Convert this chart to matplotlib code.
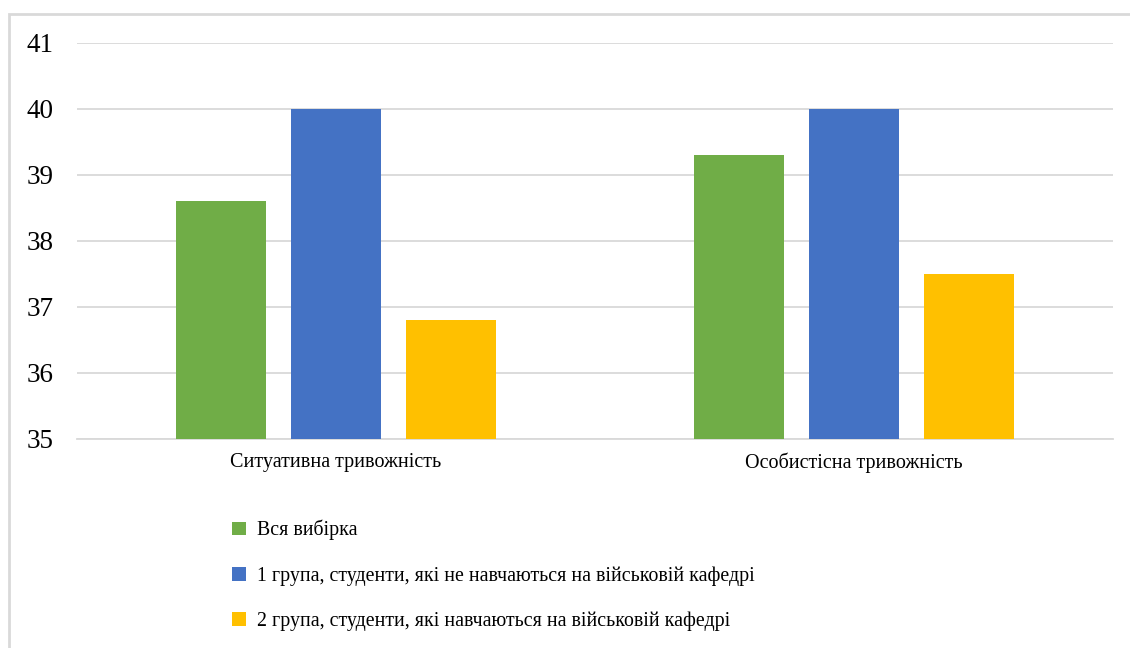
import matplotlib.pyplot as plt
import matplotlib.patches as mpl_patches
import numpy as np

plt.rcParams['font.family'] = ['Liberation Serif', 'DejaVu Serif']

categories = ['Ситуативна тривожність', 'Особистісна тривожність']
series_names = ['Вся вибірка',
                '1 група, студенти, які не навчаються на військовій кафедрі',
                '2 група, студенти, які навчаються на військовій кафедрі']
vse = [38.6, 39.3]
group1 = [40.0, 40.0]
group2 = [36.8, 37.5]
y_ticks = [35, 36, 37, 38, 39, 40, 41]

colors = ['#70AD47', '#4472C4', '#FFC000']
W, H = 1130, 648

fig = plt.figure(figsize=(W / 100, H / 100), dpi=100)
ax = fig.add_axes([77 / W, (H - 439) / H, (1113 - 77) / W, (439 - 43) / H])

x = np.arange(len(categories))
width = 0.174
step = 0.222
bars = []
for i, (vals, name) in enumerate(zip([vse, group1, group2], series_names)):
    b = ax.bar(x + (i - 1) * step, vals, width, color=colors[i], label=name,
               zorder=3)
    bars.append(b)

ax.set_xlim(-0.5, 1.5)
ax.set_ylim(35, 41)
ax.set_yticks(y_ticks)
ax.set_xticks(x)
ax.set_xticklabels(categories, fontsize=14.5)
ax.tick_params(axis='y', labelsize=19.5, length=0, pad=17)
ax.tick_params(axis='x', length=0, pad=10)
ax.grid(axis='y', color='#d9d9d9', linewidth=1.3, zorder=0)
for s in ['top', 'right', 'left']:
    ax.spines[s].set_visible(False)
ax.spines['bottom'].set_color('#d9d9d9')
ax.spines['bottom'].set_linewidth(1.3)

fig.legend(handles=bars, labels=series_names, loc='upper left',
           bbox_to_anchor=(222 / W, (H - 510) / H), frameon=False,
           fontsize=14.3, handlelength=0.7, handleheight=0.7,
           handletextpad=0.55, labelspacing=1.3, borderpad=0)

# outer frame of the chart area
fig.patches.append(mpl_patches.Rectangle((9 / W, -0.1), 1.2, (H - 14) / H + 0.1,
                                         transform=fig.transFigure,
                                         fill=False, edgecolor='#d9d9d9',
                                         linewidth=2))

fig.savefig('out.png', dpi=100)
